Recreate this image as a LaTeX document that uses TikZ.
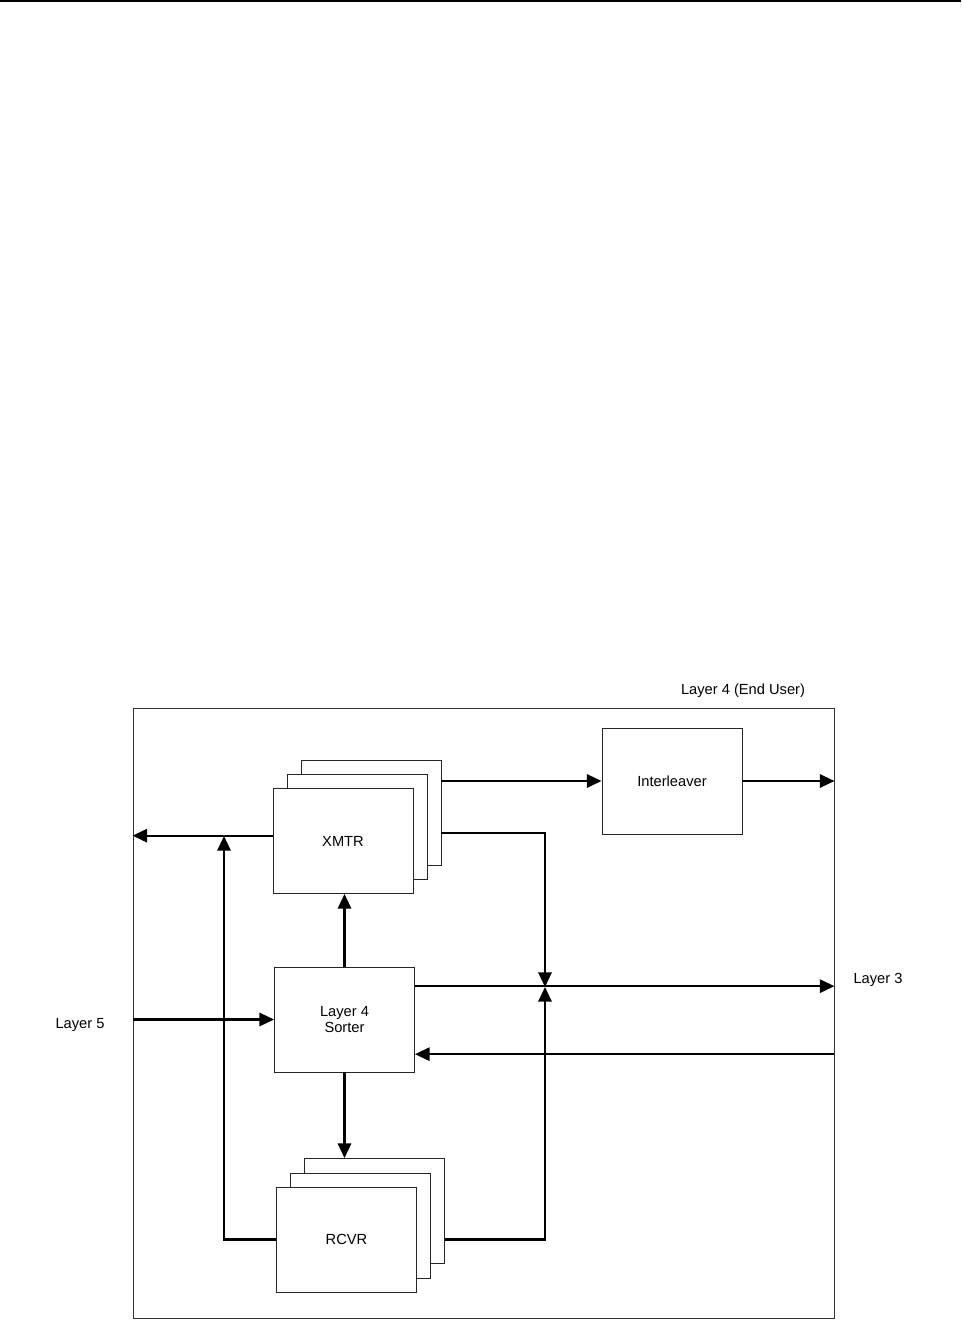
\documentclass[tikz,border=0pt]{standalone}
\usepackage{fontspec}
\setmainfont{Liberation Sans}
\usetikzlibrary{arrows.meta}
\tikzstyle{box}=[draw=black!85, line width=0.7pt, fill=white, inner sep=0pt, minimum width=105pt, minimum height=78.75pt, align=center, font=\fontsize{11}{11.5}\selectfont]
\tikzstyle{lbl}=[inner sep=0pt, font=\fontsize{11}{11.5}\selectfont]
\tikzstyle{link}=[line width=1.6pt]

\begin{document}
\begin{tikzpicture}[x=0.75pt, y=-0.75pt, >={Triangle[length=11pt,width=10pt]}]
\useasboundingbox (0,0) rectangle (961,1331);
\draw[line width=1.6pt] (0,1) -- (961,1);

\node (frame) at (483.5,1013) [draw=black!80, line width=0.7pt, minimum width=525.75pt, minimum height=457.5pt] {};
\node (l4) at (743,691) [lbl] {Layer 4 (End User)};
\node (l5) at (80,1025) [lbl] {Layer 5};
\node (l3) at (878,980) [lbl] {Layer 3};

\node (xmtrB) at (371,813) [box] {};
\node (xmtrM) at (357,827) [box] {};
\node (xmtr) at (343,841) [box] {XMTR};
\node (il) at (672,781) [box, minimum height=79.5pt] {Interleaver};
\node (sorter) at (344.5,1019.5) [box] {Layer 4\\Sorter};
\node (rcvrB) at (374.5,1211) [box] {};
\node (rcvrM) at (360.5,1225.5) [box] {};
\node (rcvr) at (346.5,1239.5) [box] {RCVR};

\coordinate (tx) at (224,836);
\coordinate (jn) at (545,987);

\draw[->, link] (xmtrB.east |- il.west) -- (il.west);
\draw[->, link] (il.east) -- (il.east -| frame.east);
\draw[->, link] ([yshift=4pt]xmtr.west) -- ([yshift=4pt]xmtr.west -| frame.west);
\draw[->, link] (rcvr.west) -| (tx);
\draw[->, link] ([yshift=-15pt]xmtrB.east) -| (jn);
\draw[->, link] (rcvrB.east |- rcvr.west) -| (jn);

\draw[->, link] (sorter.north) -- (sorter.north |- xmtr.south);
\draw[->, link] (sorter.south) -- (sorter.south |- rcvrB.north);
\draw[->, link] (sorter.west -| frame.west) -- (sorter.west);
\draw[->, link] ([yshift=25pt]sorter.east) -- ([yshift=25pt]sorter.east -| frame.east);
\draw[->, link] ([yshift=-26pt]sorter.east -| frame.east) -- ([yshift=-26pt]sorter.east);
\end{tikzpicture}
\end{document}
